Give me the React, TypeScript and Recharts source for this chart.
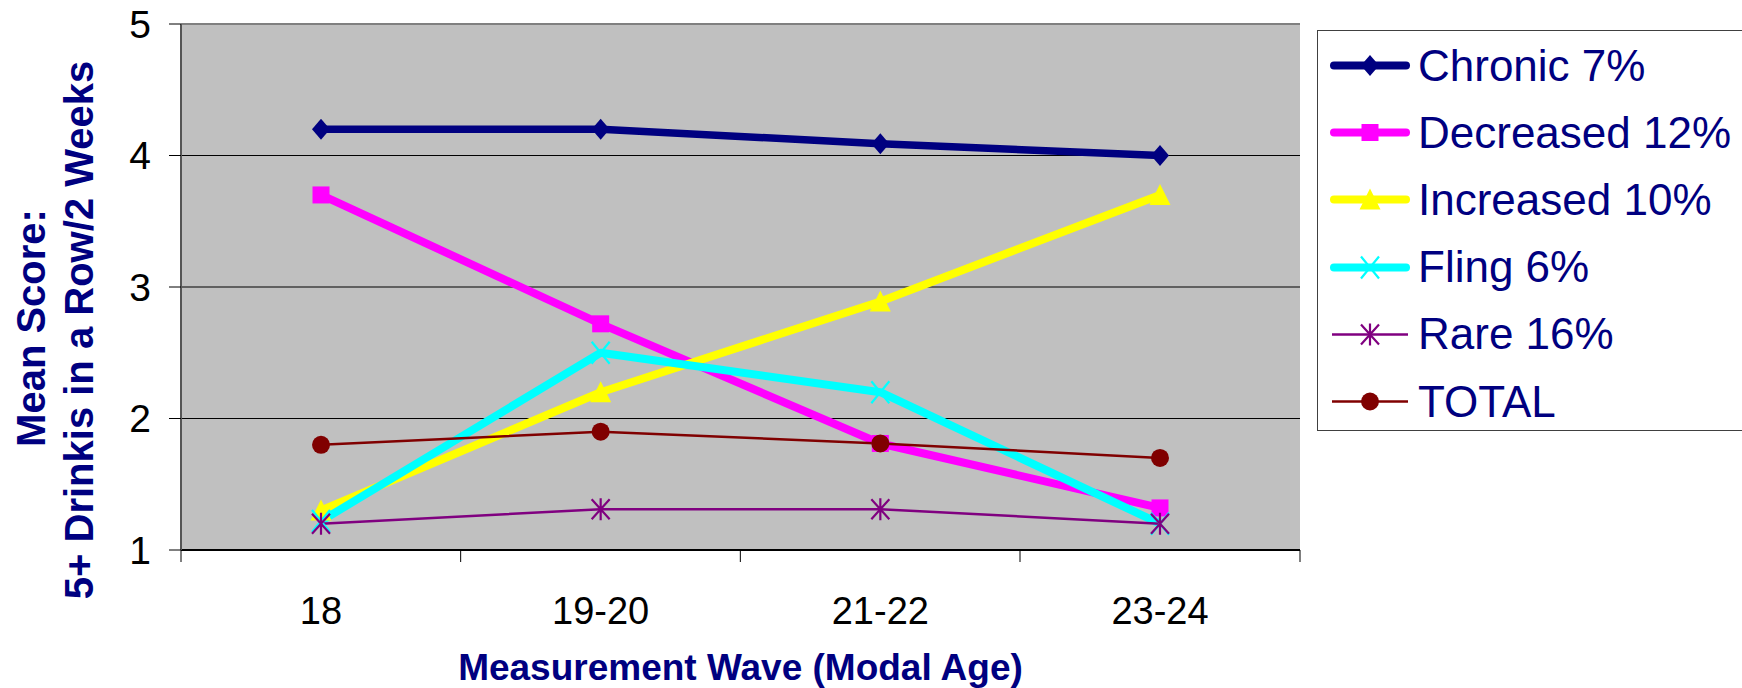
import React from 'react';
import { LineChart, Line, XAxis, YAxis, CartesianGrid, ReferenceLine, Legend, Label } from 'recharts';

const waves = ['18', '19-20', '21-22', '23-24'];
const chronic = [4.2, 4.2, 4.09, 4.0];
const decreased = [3.7, 2.72, 1.81, 1.32];
const increased = [1.3, 2.2, 2.89, 3.7];
const fling = [1.22, 2.5, 2.2, 1.2];
const rare = [1.2, 1.31, 1.31, 1.2];
const total = [1.8, 1.9, 1.81, 1.7];
const yTicks = [1, 2, 3, 4, 5];

const seriesNames = ['Chronic 7%', 'Decreased 12%', 'Increased 10%', 'Fling 6%', 'Rare 16%', 'TOTAL'];
const seriesKeys = ['chronic', 'decreased', 'increased', 'fling', 'rare', 'total'];
const seriesValues = [chronic, decreased, increased, fling, rare, total];
const seriesColors = ['#000080', '#FF00FF', '#FFFF00', '#00FFFF', '#800080', '#800000'];
const seriesWidths = [7.5, 8, 8, 8, 2.5, 2.5];
const seriesShapes = ['diamond', 'square', 'triangle', 'x', 'asterisk', 'circle'];

const data = waves.map((w, i) => {
  const row: Record<string, any> = { wave: w };
  seriesKeys.forEach((k, j) => {
    row[k] = seriesValues[j][i];
  });
  return row;
});

const FONT = "'Liberation Sans', Arial, sans-serif";
const NAVY = '#000080';
const HALF_BAND = 140;
const TICK_MARGIN = 47;

function Marker({ shape, color, x, y }: { shape: string; color: string; x: number; y: number }) {
  switch (shape) {
    case 'diamond':
      return <polygon points={`${x},${y - 10.5} ${x + 9},${y} ${x},${y + 10.5} ${x - 9},${y}`} fill={color} />;
    case 'square':
      return <rect x={x - 8.5} y={y - 8.5} width={17} height={17} fill={color} />;
    case 'triangle':
      return <polygon points={`${x},${y - 11} ${x + 10.5},${y + 10} ${x - 10.5},${y + 10}`} fill={color} />;
    case 'x':
      return (
        <path
          d={`M${x - 9},${y - 11}L${x + 9},${y + 11}M${x + 9},${y - 11}L${x - 9},${y + 11}`}
          stroke={color}
          strokeWidth={2.2}
          fill="none"
        />
      );
    case 'asterisk':
      return (
        <path
          d={`M${x - 9},${y - 10}L${x + 9},${y + 10}M${x + 9},${y - 10}L${x - 9},${y + 10}M${x},${y - 11}L${x},${y + 11}`}
          stroke={color}
          strokeWidth={2.2}
          fill="none"
        />
      );
    case 'circle':
      return <circle cx={x} cy={y} r={9} fill={color} />;
    default:
      return null;
  }
}

function LegendBox() {
  return (
    <div
      style={{
        width: 440,
        height: 401,
        border: '1.5px solid #404040',
        boxSizing: 'border-box',
        background: '#fff',
        paddingTop: 1,
        fontFamily: FONT,
      }}
    >
      {seriesNames.map((name, i) => {
        const thick = seriesWidths[i] > 4;
        return (
          <div key={name} style={{ display: 'flex', alignItems: 'center', height: 67.2 }}>
            <svg width={100} height={67} style={{ display: 'block', flex: 'none' }}>
              <line
                x1={thick ? 16 : 14}
                x2={thick ? 88 : 90}
                y1={33.5}
                y2={33.5}
                stroke={seriesColors[i]}
                strokeWidth={thick ? 8 : 2.5}
                strokeLinecap={thick ? 'round' : 'butt'}
              />
              <Marker shape={seriesShapes[i]} color={seriesColors[i]} x={52} y={33.5} />
            </svg>
            <span style={{ fontSize: 44, color: NAVY, whiteSpace: 'nowrap', lineHeight: 1 }}>{name}</span>
          </div>
        );
      })}
    </div>
  );
}

function YTitle() {
  return (
    <g>
      <text
        transform="translate(45,328) rotate(-90)"
        textAnchor="middle"
        fontSize={40}
        fontWeight="bold"
        fill={NAVY}
        fontFamily={FONT}
      >
        Mean Score:
      </text>
      <text
        transform="translate(93,330) rotate(-90)"
        textAnchor="middle"
        fontSize={40}
        fontWeight="bold"
        fill={NAVY}
        fontFamily={FONT}
      >
        5+ Drinkis in a Row/2 Weeks
      </text>
    </g>
  );
}

function CategoryTick(props: any) {
  const { x, y, payload, index } = props;
  const axisY = y - TICK_MARGIN;
  const last = index === waves.length - 1;
  return (
    <g>
      <line x1={x - HALF_BAND} x2={x - HALF_BAND} y1={axisY} y2={axisY + 12} stroke="#000" strokeWidth={1} />
      {last && <line x1={x + HALF_BAND} x2={x + HALF_BAND} y1={axisY} y2={axisY + 12} stroke="#000" strokeWidth={1} />}
      <text x={x} y={y} dy="0.71em" textAnchor="middle" fontSize={38} fill="#000" fontFamily={FONT}>
        {payload.value}
      </text>
    </g>
  );
}

export default function App() {
  return (
    <div
      style={{
        position: 'absolute',
        left: 0,
        top: 0,
        width: 1742,
        height: 688,
        overflow: 'hidden',
        background: '#fff',
        fontFamily: FONT,
      }}
    >
      <LineChart
        width={1742}
        height={688}
        data={data}
        margin={{ top: 24, right: 442, bottom: 0, left: 0 }}
        style={{ fontFamily: FONT }}
      >
        <CartesianGrid
          xAxisId="cat"
          vertical={false}
          horizontal
          fill="#C0C0C0"
          fillOpacity={1}
          stroke="#000"
          strokeWidth={1}
        />
        <XAxis
          xAxisId="cat"
          dataKey="wave"
          type="category"
          padding={{ left: HALF_BAND, right: HALF_BAND }}
          height={138}
          tickSize={0}
          tickLine={false}
          tickMargin={TICK_MARGIN}
          axisLine={{ stroke: '#000', strokeWidth: 2 }}
          tick={<CategoryTick />}
          interval={0}
        >
          <Label
            value="Measurement Wave (Modal Age)"
            position="insideBottom"
            offset={8}
            fill={NAVY}
            fontSize={37}
            fontWeight="bold"
            fontFamily={FONT}
          />
        </XAxis>
        <XAxis xAxisId="bounds" type="number" domain={[0, 4]} height={0} hide allowDataOverflow />
        <YAxis
          domain={[1, 5]}
          ticks={yTicks}
          type="number"
          width={181}
          tickSize={12}
          tickMargin={18}
          axisLine={{ stroke: '#555', strokeWidth: 2 }}
          tickLine={{ stroke: '#000', strokeWidth: 1 }}
          tick={{ fontSize: 39, fill: '#000', fontFamily: FONT }}
          allowDataOverflow
        >
          <Label content={() => <YTitle />} />
        </YAxis>
        <ReferenceLine y={5} xAxisId="bounds" stroke="#808080" strokeWidth={2} />
        <ReferenceLine x={4} xAxisId="bounds" stroke="#808080" strokeWidth={2} />
        {seriesKeys.map((k, j) => (
          <Line
            key={k}
            xAxisId="cat"
            type="linear"
            dataKey={k}
            name={seriesNames[j]}
            stroke={seriesColors[j]}
            strokeWidth={seriesWidths[j]}
            strokeLinejoin="round"
            isAnimationActive={false}
            activeDot={false}
            dot={(p: any) => (
              <Marker key={`${k}-${p.index}`} shape={seriesShapes[j]} color={seriesColors[j]} x={p.cx} y={p.cy} />
            )}
          />
        ))}
        <Legend
          layout="vertical"
          align="center"
          verticalAlign="middle"
          content={() => <LegendBox />}
          wrapperStyle={{ left: 1317, top: 30, width: 440, height: 401 }}
        />
      </LineChart>
    </div>
  );
}
